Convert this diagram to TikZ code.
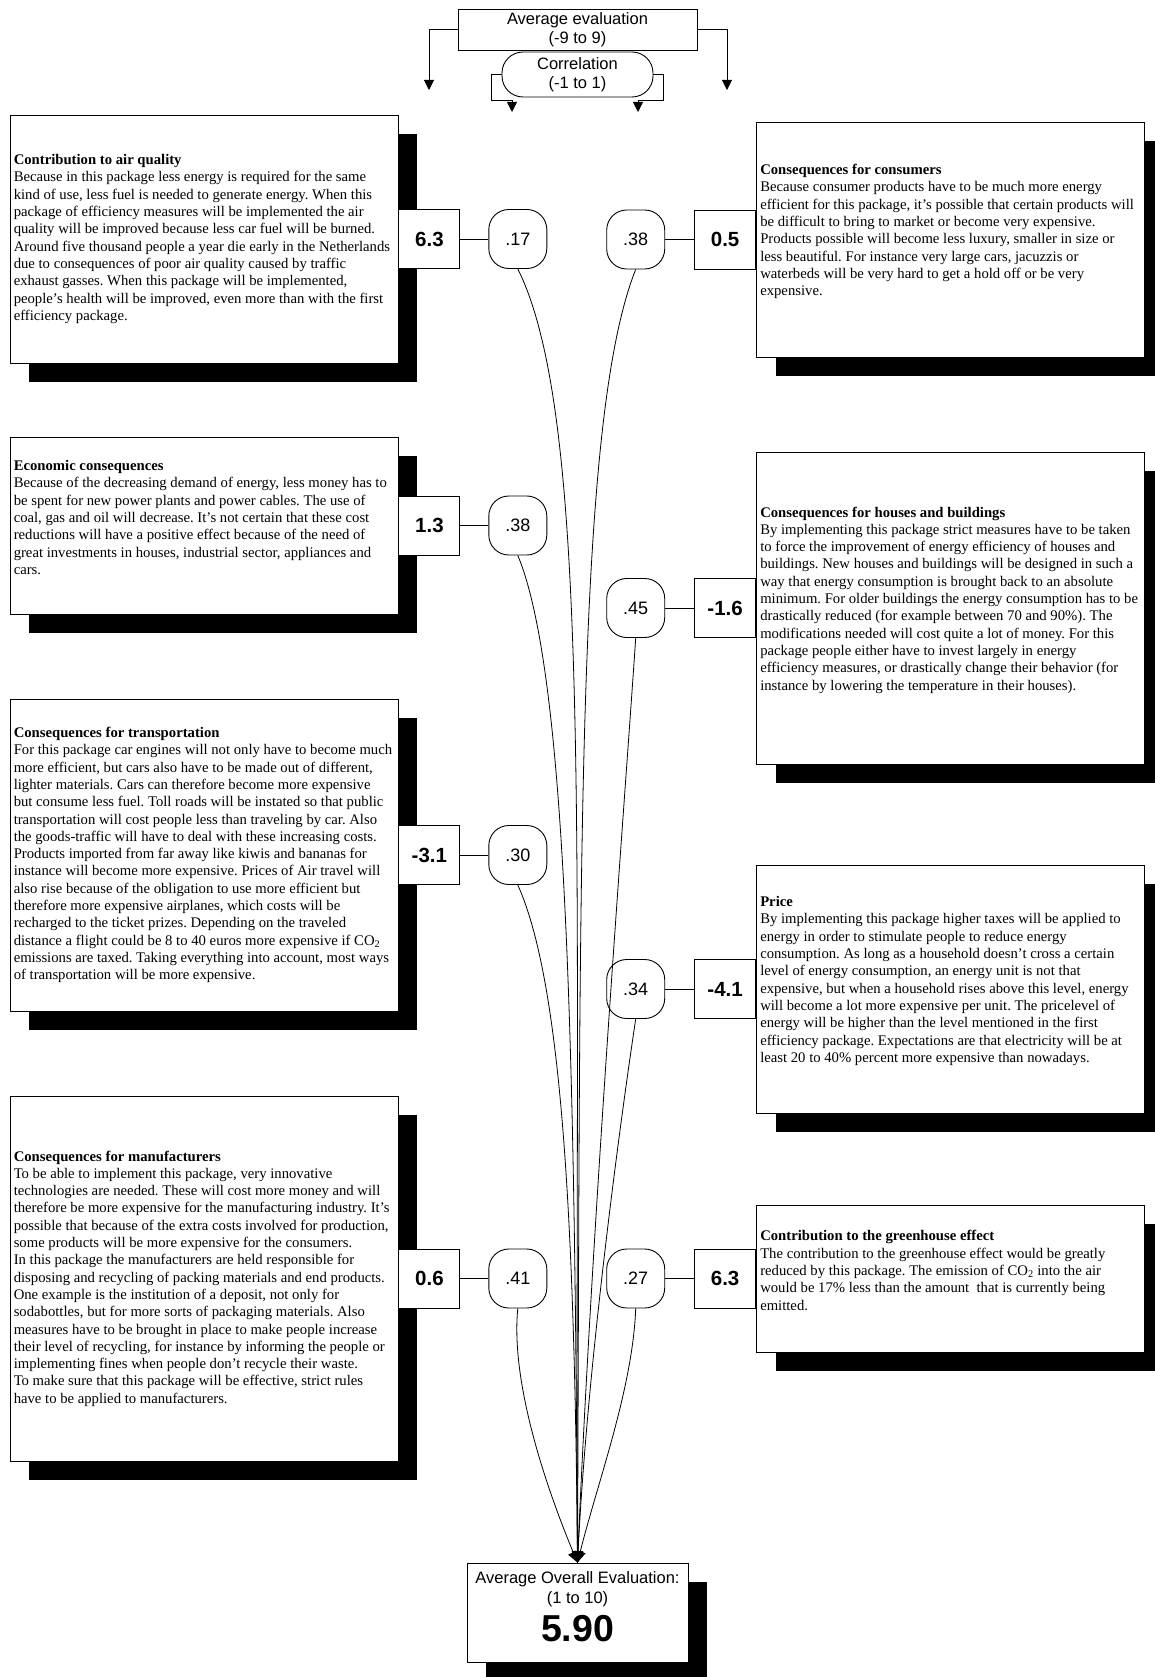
\documentclass[tikz,border=0pt]{standalone}
\usepackage{fontspec}
\setmainfont{Liberation Serif}
\newfontfamily\arialfont{Liberation Sans}
\usepackage{tikz}
\usetikzlibrary{arrows.meta,positioning,shadows}
\frenchspacing

\begin{document}
\begin{tikzpicture}[
    x=1pt, y=-1pt,
    node distance=0pt,
    infobox/.style={rectangle, draw=black, fill=white, line width=0.9pt, minimum width=388pt, inner sep=0pt, drop shadow={shadow xshift=19pt, shadow yshift=-19pt, fill=black, opacity=1}},
    infotext/.style={inner sep=0pt, align=left, anchor=west, font=\fontsize{14.7}{17.3}\selectfont},
    scorebox/.style={rectangle, draw=black, fill=white, line width=0.9pt, minimum width=61pt, minimum height=59pt, inner sep=0pt, font=\arialfont\bfseries\fontsize{20.5}{24}\selectfont},
    corrbox/.style={rectangle, draw=black, fill=white, line width=0.9pt, rounded corners=20pt, minimum width=58pt, minimum height=59pt, inner sep=0pt, font=\arialfont\fontsize{18}{21}\selectfont},
    headbox/.style={rectangle, draw=black, fill=white, line width=0.9pt, align=center, inner sep=0pt, font=\arialfont\fontsize{16.5}{19.5}\selectfont},
    resultbox/.style={headbox, font=\arialfont\fontsize{16.5}{20.5}\selectfont, minimum width=221pt, minimum height=99pt, drop shadow={shadow xshift=19pt, shadow yshift=-19pt, fill=black, opacity=1}},
    arrow/.style={-{Triangle[length=10pt, width=10pt]}, line width=0.9pt},
    link/.style={line width=0.8pt},
    flow/.style={-{Triangle[length=11pt, width=11pt]}, line width=0.8pt}
]
    \useasboundingbox (0,0) rectangle (1155,1677);

    % header
    \node[headbox, minimum width=239pt, minimum height=41pt] (avg) at (577.5,29.5) {Average evaluation\\(-9 to 9)};
    \node[headbox, rounded corners=21pt, minimum width=151pt, minimum height=45pt] (corr) at (577.5,74.5) {Correlation\\(-1 to 1)};
    \coordinate (hl) at (429,90);
    \coordinate (hr) at (727,90);
    \coordinate (cl) at (512,112);
    \coordinate (cr) at (638,112);
    \draw[arrow] (avg.west) -| (hl);
    \draw[arrow] (avg.east) -| (hr);
    \draw[arrow] (corr.west) -- ++(-10,0) -- ++(0,25.5) -| (cl);
    \draw[arrow] (corr.east) -- ++(10,0) -- ++(0,25.5) -| (cr);

    % left column
    \node[infobox, minimum height=248pt] (air) at (204,239) {};
    \node[infotext] (airtext) at ([xshift=4pt]air.west) {\textbf{Contribution to air quality}\\
        Because in this package less energy is required for the same\\
        kind of use, less fuel is needed to generate energy. When this\\
        package of efficiency measures will be implemented the air\\
        quality will be improved because less car fuel will be burned.\\
        Around five thousand people a year die early in the Netherlands\\
        due to consequences of poor air quality caused by traffic\\
        exhaust gasses. When this package will be implemented,\\
        people’s health will be improved, even more than with the first\\
        efficiency package.};

    \node[infobox, minimum height=177pt] (econ) at (204,525.5) {};
    \node[infotext] (econtext) at ([xshift=4pt, yshift=8pt]econ.west) {\textbf{Economic consequences}\\
        Because of the decreasing demand of energy, less money has to\\
        be spent for new power plants and power cables. The use of\\
        coal, gas and oil will decrease. It’s not certain that these cost\\
        reductions will have a positive effect because of the need of\\
        great investments in houses, industrial sector, appliances and\\
        cars.};

    \node[infobox, minimum height=312pt] (trans) at (204,855) {};
    \node[infotext] (transtext) at ([xshift=4pt]trans.west) {\textbf{Consequences for transportation}\\
        For this package car engines will not only have to become much\\
        more efficient, but cars also have to be made out of different,\\
        lighter materials. Cars can therefore become more expensive\\
        but consume less fuel. Toll roads will be instated so that public\\
        transportation will cost people less than traveling by car. Also\\
        the goods-traffic will have to deal with these increasing costs.\\
        Products imported from far away like kiwis and bananas for\\
        instance will become more expensive. Prices of Air travel will\\
        also rise because of the obligation to use more efficient but\\
        therefore more expensive airplanes, which costs will be\\
        recharged to the ticket prizes. Depending on the traveled\\
        distance a flight could be 8 to 40 euros more expensive if CO\textsubscript{2}\\
        emissions are taxed. Taking everything into account, most ways\\
        of transportation will be more expensive.};

    \node[infobox, minimum height=365pt] (manu) at (204,1278.5) {};
    \node[infotext] (manutext) at ([xshift=4pt]manu.west) {\textbf{Consequences for manufacturers}\\
        To be able to implement this package, very innovative\\
        technologies are needed. These will cost more money and will\\
        therefore be more expensive for the manufacturing industry. It’s\\
        possible that because of the extra costs involved for production,\\
        some products will be more expensive for the consumers.\\
        In this package the manufacturers are held responsible for\\
        disposing and recycling of packing materials and end products.\\
        One example is the institution of a deposit, not only for\\
        sodabottles, but for more sorts of packaging materials. Also\\
        measures have to be brought in place to make people increase\\
        their level of recycling, for instance by informing the people or\\
        implementing fines when people don’t recycle their waste.\\
        To make sure that this package will be effective, strict rules\\
        have to be applied to manufacturers.};

    % right column
    \node[infobox, minimum height=235pt] (cons) at (950.5,239.5) {};
    \node[infotext] (constext) at ([xshift=4pt, yshift=8pt]cons.west) {\textbf{Consequences for consumers}\\
        Because consumer products have to be much more energy\\
        efficient for this package, it’s possible that certain products will\\
        be difficult to bring to market or become very expensive.\\
        Products possible will become less luxury, smaller in size or\\
        less beautiful. For instance very large cars, jacuzzis or\\
        waterbeds will be very hard to get a hold off or be very\\
        expensive.};

    \node[infobox, minimum height=312pt] (house) at (950.5,608) {};
    \node[infotext] (housetext) at ([xshift=4pt, yshift=8pt]house.west) {\textbf{Consequences for houses and buildings}\\
        By implementing this package strict measures have to be taken\\
        to force the improvement of energy efficiency of houses and\\
        buildings. New houses and buildings will be designed in such a\\
        way that energy consumption is brought back to an absolute\\
        minimum. For older buildings the energy consumption has to be\\
        drastically reduced (for example between 70 and 90\%). The\\
        modifications needed will cost quite a lot of money. For this\\
        package people either have to invest largely in energy\\
        efficiency measures, or drastically change their behavior (for\\
        instance by lowering the temperature in their houses).};

    \node[infobox, minimum height=248pt] (price) at (950.5,989) {};
    \node[infotext] (pricetext) at ([xshift=4pt, yshift=8pt]price.west) {\textbf{Price}\\
        By implementing this package higher taxes will be applied to\\
        energy in order to stimulate people to reduce energy\\
        consumption. As long as a household doesn’t cross a certain\\
        level of energy consumption, an energy unit is not that\\
        expensive, but when a household rises above this level, energy\\
        will become a lot more expensive per unit. The pricelevel of\\
        energy will be higher than the level mentioned in the first\\
        efficiency package. Expectations are that electricity will be at\\
        least 20 to 40\% percent more expensive than nowadays.};

    \node[infobox, minimum height=147pt] (green) at (950.5,1278.5) {};
    \node[infotext] (greentext) at ([xshift=4pt, yshift=8pt]green.west) {\textbf{Contribution to the greenhouse effect}\\
        The contribution to the greenhouse effect would be greatly\\
        reduced by this package. The emission of CO\textsubscript{2} into the air\\
        would be 17\% less than the amount \ that is currently being\\
        emitted.};

    % scores and correlations
    \node[scorebox, right=of air] (sair) {6.3};
    \node[corrbox, right=28pt of sair] (cair) {.17};
    \node[scorebox, right=of econ] (secon) {1.3};
    \node[corrbox, right=28pt of secon] (cecon) {.38};
    \node[scorebox, right=of trans] (strans) {-3.1};
    \node[corrbox, right=28pt of strans] (ctrans) {.30};
    \node[scorebox, right=of manu] (smanu) {0.6};
    \node[corrbox, right=28pt of smanu] (cmanu) {.41};

    \node[scorebox, left=of cons] (scons) {0.5};
    \node[corrbox, left=29pt of scons] (ccons) {.38};
    \node[scorebox, left=of house] (shouse) {-1.6};
    \node[corrbox, left=29pt of shouse] (chouse) {.45};
    \node[scorebox, left=of price] (sprice) {-4.1};
    \node[corrbox, left=29pt of sprice] (cprice) {.34};
    \node[scorebox, left=of green] (sgreen) {6.3};
    \node[corrbox, left=29pt of sgreen] (cgreen) {.27};

    \foreach \s/\c in {sair/cair, secon/cecon, strans/ctrans, smanu/cmanu, scons/ccons, shouse/chouse, sprice/cprice, sgreen/cgreen}
        \draw[link] (\s) -- (\c);

    % overall result
    \node[resultbox] (final) at (577.5,1612.5) {Average Overall Evaluation:\\(1 to 10)\\[7pt]{\fontsize{37.5}{40}\selectfont\bfseries 5.90\rule[-12pt]{0pt}{12pt}}};

    \draw[flow] (cair.south) .. controls +(75,150) and +(-3,-700) .. (final.north);
    \draw[flow] (cecon.south) .. controls +(50,120) and +(-3,-500) .. (final.north);
    \draw[flow] (ctrans.south) .. controls +(45,100) and +(-3,-330) .. (final.north);
    \draw[flow] (cmanu.south) .. controls +(-8,80) and +(-25,-60) .. (final.north);
    \draw[flow] (ccons.south) .. controls +(-60,150) and +(3,-700) .. (final.north);
    \draw[flow] (chouse.south) .. controls +(-10,150) and +(15,-350) .. (final.north);
    \draw[flow] (cprice.south) .. controls +(-15,100) and +(10,-200) .. (final.north);
    \draw[flow] (cgreen.south) .. controls +(-3,80) and +(20,-80) .. (final.north);
\end{tikzpicture}
\end{document}
